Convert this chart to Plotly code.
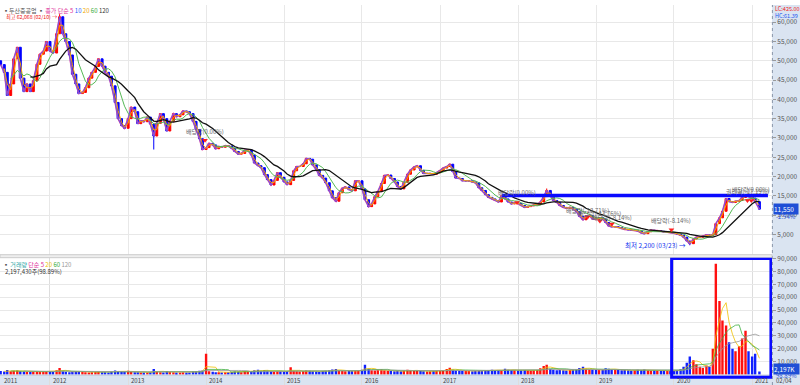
import pandas as pd
import plotly.graph_objects as go

# ---------------- data (semi-monthly samples) ----------------
dates = list(pd.date_range("2011-05-15", periods=233, freq="SMS").strftime("%Y-%m-%d")) + ["2021-02-04"]

closes = [
    49000, 47000, 41000, 44000, 50500, 53500, 45500, 42000, 44000, 42000,
    44800, 49100, 51700, 52500, 55000, 52500, 52000, 57000, 61400, 57000,
    55000, 51500, 46500, 44000, 41500, 41800, 43000, 45500, 47000, 48500,
    50500, 48600, 47000, 46000, 43500, 39200, 35000, 33200, 32500, 35000,
    38000, 36800, 33700, 34500, 34200, 35400, 33600, 30500, 33800, 36300,
    35000, 31800, 34300, 36300, 35500, 36000, 37000, 36800, 36300, 34300,
    32200, 29800, 27000, 27500, 28600, 28200, 27200, 27800, 27600, 28000,
    27900, 27300, 26500, 25800, 26000, 26800, 26900, 25600, 23500, 22800,
    22300, 20500, 19200, 17800, 19000, 21000, 19800, 18600, 17900, 19000,
    21500, 22600, 22600, 23300, 24700, 24500, 23000, 21800, 20300, 19600,
    18400, 16300, 14500, 13600, 15800, 17000, 17300, 16600, 16300, 18900,
    18900, 16800, 14000, 12200, 12900, 14800, 16100, 18200, 20300, 20400,
    19500, 18600, 17400, 16800, 18500, 20600, 21700, 22500, 22800, 21600,
    20800, 20800, 20800, 20600, 21000, 21600, 22200, 22600, 23200, 21300,
    19600, 19500, 18900, 18900, 18900, 18600, 18400, 17100, 16400, 15300,
    14600, 14200, 13800, 13400, 15000, 14200, 13400, 12900, 13200, 13000,
    12500, 12000, 12200, 12400, 12600, 12800, 13400, 14800, 16400, 15100,
    13800, 13300, 12500, 12000, 11800, 12000, 11600, 10900, 9700, 8800,
    9800, 9900, 9000, 8900, 9300, 9000, 8100, 7200, 7000, 7000,
    6800, 6500, 6300, 6200, 6100, 6100, 5900, 5400, 5200, 5700,
    6100, 6000, 6000, 5800, 5600, 5600, 5500, 5300, 5100, 4800,
    4300, 3300, 2600, 3800, 4300, 4300, 4600, 4900, 4700, 5000,
    7800, 9300, 11000, 14300, 13500, 13300, 13600, 13800, 14600, 15100,
    14800, 14400, 13500, 11550,
]
first_open = 50000
high_marks = {"2012-02-15": 62068, "2018-05-15": 16900}
low_marks = {"2013-05-01": 27000, "2020-03-15": 2200}

volumes_k = [
    2600, 2200, 3500, 2400, 2800, 3000, 2500, 2300, 2100, 1900, 2000, 2400, 2200, 2000, 2600, 2100, 1900, 3200,
    5000,
    2400, 2000, 1800, 2200, 2600, 2400, 2000, 1700, 1600, 1800, 1900, 2100, 1800, 1700, 1600, 2200, 3000, 2600,
    2400, 2000, 2800, 2200, 1800, 1700, 1600, 1500, 1600, 1700,
    4200,
    2000, 1800, 1600, 2600, 1900, 1700, 1500, 1600, 1700, 1500, 1600, 2200, 2400, 2800,
    3000, 16000,
    2400, 2000, 1800, 1700, 1600, 1800, 1700, 1900, 2200, 2000, 1800, 2600, 2000, 2200, 3200, 3600, 2800, 3400,
    3000, 2400, 2200, 2600, 2400, 2200, 2600,
    5500,
    2600, 2400, 2200, 2600, 3000, 2800, 2400, 2200, 2000, 2600, 2800, 3200, 3800, 4200, 3000, 2600, 2400, 2600,
    2800, 3000, 3200, 3600,
    7500,
    4500, 3200, 3000, 3400, 3800, 3200, 2800, 2600, 2400, 2600, 2400, 3000, 3600, 3200, 2800, 3000, 2600, 2400,
    2200, 2400, 2600, 2800, 3000, 3200, 4200,
    5200,
    3600, 3000, 2800, 2600, 2800, 2600, 2400, 2600, 2800, 3000, 3200, 3400, 3600, 3200, 3400, 3000, 4400, 3600,
    3400, 3200, 3000, 3200, 3400, 3200, 3000, 3200, 3400, 4800,
    6500, 7500,
    4200, 3600, 3200, 3400, 3200, 3000, 3400, 3600, 4000, 5000, 6000, 4400, 3800, 3600, 3400, 3600, 3400, 4800,
    4400, 3800, 3600, 3400, 3200, 3400, 3200, 3000, 3200, 3600, 3400, 3800, 3200, 3000, 3200, 3000, 2800, 3000,
    2800, 2600, 2800, 3400,
    4000, 6000, 9000, 14000, 11000, 8000, 6000, 5000, 7000, 6000, 20000, 86000, 57000, 42000, 38000, 25000,
    20000, 18000, 22000, 28000, 34000, 18000, 14000, 16000, 2197,
]
assert len(closes) == len(dates) == len(volumes_k), (len(closes), len(dates), len(volumes_k))

year_ticks = [f"{y}-01-01" for y in range(2012, 2022)]
x_label_dates = [dates[0]] + year_ticks
x_labels = ["2011"] + [str(y) for y in range(2012, 2022)]
price_ticks = list(range(5000, 60001, 5000))
vol_ticks = list(range(10000, 90001, 10000))

ev_dates = ["2013-12-27", "2017-12-27", "2018-11-23", "2019-01-19", "2019-03-16", "2019-12-20", "2020-12-10", "2020-12-28"]
ev_labels = ["배당락(0.00%)", "배당락(0.00%)", "배당락(-13.71%)", "배당락(-13.76%)", "배당락(-8.14%)",
             "배당락(-8.14%)", "권리락(-17.19%)", "배당락(0.00%)"]
ev_label_prices = [31700, 15900, 11300, 10300, 9400, 8700, 16000, 16700]
ev_arrow_prices = [29400, 13300, 9500, 8500, 7700, 6200, 13800, 13800]

hl_level = 15100
hl_start, hl_end = "2017-10-18", "2021-03-16"
box_start, box_end = "2019-12-21", "2021-03-30"
box_top, box_bottom = 90000, -2100

last_price, last_change = 11550, "-2.94%"
last_volume = 2197

# ---------------- derived ----------------
opens = [first_open] + closes[:-1]
highs = [high_marks.get(d, max(o, c)) for d, o, c in zip(dates, opens, closes)]
lows = [low_marks.get(d, min(o, c)) for d, o, c in zip(dates, opens, closes)]
s = pd.Series(closes)
ma20 = s.rolling(2).mean()
ma60 = s.rolling(6, min_periods=4).mean()
ma120 = s.rolling(12, min_periods=10).mean()
v = pd.Series(volumes_k)
vma20 = v.rolling(4, min_periods=2).mean()
vma60 = v.rolling(8, min_periods=4).mean()
vma120 = v.rolling(14, min_periods=8).mean()
vol_colors = ["#ff1010" if c >= o else "#1020ff" for o, c in zip(opens, closes)]

FONT = "Noto Sans CJK KR, Liberation Sans, sans-serif"
fig = go.Figure()
fig.add_trace(go.Scatter(x=dates, y=closes, mode="lines", line=dict(color="#e83a9a", width=1.6),
                         xaxis="x", yaxis="y", hoverinfo="skip"))
fig.add_trace(go.Candlestick(
    x=dates, open=opens, high=highs, low=lows, close=closes,
    increasing=dict(line=dict(color="#ff0000", width=1), fillcolor="#ff0000"),
    decreasing=dict(line=dict(color="#0000ff", width=1), fillcolor="#0000ff"),
    whiskerwidth=0, xaxis="x", yaxis="y", hoverinfo="skip"))
fig.add_trace(go.Scatter(x=dates, y=closes, mode="lines", line=dict(color="#3a6cff", width=0.7),
                         xaxis="x", yaxis="y", hoverinfo="skip"))
fig.add_trace(go.Scatter(x=dates, y=ma20, mode="lines", line=dict(color="#f5a800", width=1), xaxis="x", yaxis="y"))
fig.add_trace(go.Scatter(x=dates, y=ma60, mode="lines", line=dict(color="#55b855", width=1), xaxis="x", yaxis="y"))
fig.add_trace(go.Scatter(x=dates, y=ma120, mode="lines", line=dict(color="#111111", width=1.3), xaxis="x", yaxis="y"))
fig.add_trace(go.Scatter(x=ev_dates, y=ev_arrow_prices, mode="markers",
                         marker=dict(symbol="triangle-down", size=5, color="#ff2020"), xaxis="x", yaxis="y"))

fig.add_trace(go.Bar(x=dates, y=volumes_k, marker=dict(color=vol_colors, line=dict(width=0)), xaxis="x2", yaxis="y2"))
fig.add_trace(go.Scatter(x=dates, y=vma20, mode="lines", line=dict(color="#f0c000", width=0.8), xaxis="x2", yaxis="y2"))
fig.add_trace(go.Scatter(x=dates, y=vma60, mode="lines", line=dict(color="#40b040", width=0.8), xaxis="x2", yaxis="y2"))
fig.add_trace(go.Scatter(x=dates, y=vma120, mode="lines", line=dict(color="#999999", width=0.8), xaxis="x2", yaxis="y2"))

XR = ["2011-05-12", "2021-04-04"]
DOM = [0, 0.965]
grid = "#e8e8e8"
fig.update_layout(
    width=800, height=385, margin=dict(l=0, r=0, t=0, b=0),
    paper_bgcolor="white", plot_bgcolor="white", showlegend=False, bargap=0.2, boxgap=0.05,
    font=dict(family=FONT, size=7, color="#444"),
    xaxis=dict(domain=DOM, range=XR, type="date", tickvals=year_ticks, showticklabels=False,
               showgrid=True, gridcolor=grid, zeroline=False, anchor="y", rangeslider=dict(visible=False),
               showline=False, fixedrange=True),
    yaxis=dict(domain=[1 - 253 / 385, 1], range=[-256, 64450], side="right", tickvals=price_ticks,
               tickformat=",d", ticks="outside", ticklen=3, tickcolor="#999", showgrid=True, gridcolor=grid,
               zeroline=False, tickfont=dict(size=6.5, color="#555"), anchor="x"),
    xaxis2=dict(domain=DOM, range=XR, type="date", tickvals=year_ticks, showticklabels=False,
                showgrid=True, gridcolor="#dddddd", zeroline=False, anchor="y2", matches="x"),
    yaxis2=dict(domain=[0, 1 - 256 / 385], range=[-8205, 90725], side="right", tickvals=vol_ticks,
                tickformat=",d", ticksuffix="K", ticks="outside", ticklen=3, tickcolor="#999",
                showgrid=True, gridcolor=grid, zeroline=False, tickfont=dict(size=6.5, color="#555"), anchor="x2"),
)

shapes = [
    dict(type="rect", xref="paper", yref="paper", x0=0.965, x1=1, y0=0, y1=1,
         fillcolor="#dae4f1", line=dict(width=0), layer="below"),
    dict(type="rect", xref="paper", yref="paper", x0=0, x1=1, y0=0, y1=10 / 385,
         fillcolor="#dae4f1", line=dict(width=0), layer="below"),
    dict(type="line", xref="paper", yref="paper", x0=0, x1=0.965, y0=10 / 385, y1=10 / 385,
         line=dict(color="#b8c4d4", width=1)),
    dict(type="line", xref="paper", yref="paper", x0=0.9655, x1=0.9655, y0=0, y1=1,
         line=dict(color="#8a96a8", width=1, dash="dot")),
    dict(type="rect", xref="paper", yref="paper", x0=0, x1=0.965, y0=1 - 256 / 385, y1=1 - 253 / 385,
         fillcolor="#eeeeee", line=dict(color="#cccccc", width=1)),
    dict(type="line", xref="x", yref="y", x0=hl_start, x1=hl_end, y0=hl_level, y1=hl_level,
         line=dict(color="#0a0aff", width=3.5)),
    dict(type="rect", xref="x2", yref="y2", x0=box_start, x1=box_end, y0=box_bottom, y1=box_top,
         line=dict(color="#0a0aff", width=3), fillcolor="rgba(0,0,0,0)"),
]
fig.update_layout(shapes=shapes)

ann = []
for d, t in zip(x_label_dates, x_labels):
    ann.append(dict(x=d, xref="x2", y=5 / 385, yref="paper", text=t, showarrow=False, xanchor="left",
                    yanchor="middle", xshift=1, font=dict(size=6, color="#444")))
ann.append(dict(x=0.968, xref="paper", y=5 / 385, yref="paper", text="02/04", showarrow=False,
                xanchor="left", yanchor="middle", font=dict(size=6, color="#444")))
for d, t, p in zip(ev_dates, ev_labels, ev_label_prices):
    ann.append(dict(x=d, xref="x", y=p, yref="y", text=t, showarrow=False, xanchor="center", yanchor="middle",
                    font=dict(size=6, color="#666")))
ann.append(dict(x="2012-02-15", xref="x", y=62068, yref="y", text="최고 62,068 (02/10) →",
                showarrow=False, xanchor="right", yanchor="middle", xshift=-1, yshift=-3,
                font=dict(size=5.2, color="#ee1111")))
ann.append(dict(x="2020-03-15", xref="x", y=2200, yref="y", text="최저 2,200 (03/23) →",
                showarrow=False, xanchor="right", yanchor="middle", xshift=-2, font=dict(size=6.5, color="#1133ee")))
# legends
ann.append(dict(x=1 / 800, xref="paper", y=1, yref="paper", showarrow=False, xanchor="left", yanchor="top",
                yshift=1,
                text="▪<span style='color:#555'>두산중공업</span> ▪ <span style='color:#e0309a'>종가 단순 5</span> "
                     "<span style='color:#2a5cff'>10</span> <span style='color:#f0a800'>20</span> "
                     "<span style='color:#33aa33'>60</span> <span style='color:#333'>120</span>",
                font=dict(size=6, color="#555")))
ann.append(dict(x=1 / 800, xref="paper", y=1 - 256 / 385, yref="paper", showarrow=False, xanchor="left", yanchor="top",
                text="▪ <span style='color:#2aa5a5'>거래량</span> <span style='color:#e0309a'>단순 5</span> "
                     "<span style='color:#f0c000'>20</span> <span style='color:#33aa33'>60</span> "
                     "<span style='color:#999'>120</span>",
                font=dict(size=6, color="#555")))
ann.append(dict(x=3 / 800, xref="paper", y=1 - 263 / 385, yref="paper", showarrow=False, xanchor="left", yanchor="top",
                text=f"{last_volume * 1000 + 430:,}주(98.89%)", font=dict(size=6, color="#333")))
# right strip labels
ann.append(dict(x=0.9665, xref="paper", y=1, yref="paper", showarrow=False, xanchor="left", yanchor="top",
                yshift=2, text="LC:425.00", font=dict(size=5.5, color="#ee2222")))
ann.append(dict(x=0.9665, xref="paper", y=1 - 7 / 385, yref="paper", showarrow=False, xanchor="left", yanchor="top",
                yshift=2, text="HC:61.39", font=dict(size=5.5, color="#2255ee")))
ann.append(dict(x=0.966, xref="paper", y=last_price, yref="y", showarrow=False, xanchor="left", yanchor="middle",
                text=f"{last_price:,}&nbsp;&nbsp;&nbsp;", bgcolor="#1f4fd6", borderpad=0, font=dict(size=6.5, color="white")))
ann.append(dict(x=0.968, xref="paper", y=last_price, yref="y", showarrow=False, xanchor="left", yanchor="middle",
                yshift=-7, text=last_change, font=dict(size=6, color="#1f4fd6")))
ann.append(dict(x=0.966, xref="paper", y=last_volume, yref="y2", showarrow=False, xanchor="left", yanchor="middle",
                yshift=3, text=f"{last_volume:,}K&nbsp;&nbsp;&nbsp;", bgcolor="#1f4fd6", borderpad=0,
                font=dict(size=6.5, color="white")))
ann.append(dict(x=0.968, xref="paper", y=last_volume, yref="y2", showarrow=False, xanchor="left", yanchor="middle",
                yshift=-4, text="98.89%", font=dict(size=6, color="#1f4fd6")))
fig.update_layout(annotations=ann)

fig.write_html("out.html")
